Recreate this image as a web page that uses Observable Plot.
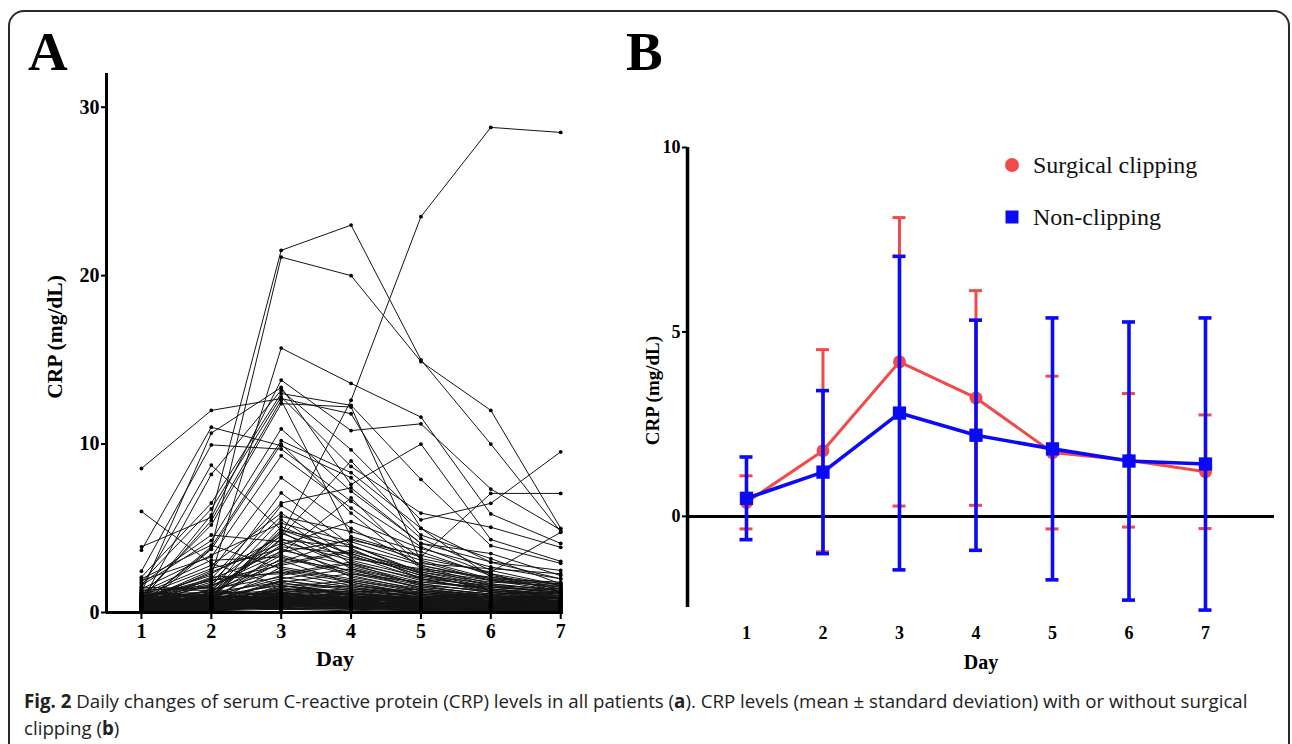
<!DOCTYPE html>
<html>
<head>
<meta charset="utf-8">
<script src="https://cdn.jsdelivr.net/npm/d3@7"></script>
<script src="https://cdn.jsdelivr.net/npm/@observablehq/plot@0.6"></script>
<style>
  html, body { margin: 0; padding: 0; background: #fff; }
  body { width: 1292px; height: 744px; overflow: hidden; position: relative; }
  #frame { position: absolute; left: 8px; top: 10px; width: 1282px; height: 780px;
           border: 2px solid #2a2a2a; border-radius: 16px; box-sizing: border-box; }
  .panel-label { position: absolute; font-family: "Liberation Serif", serif; font-weight: bold;
                 font-size: 55px; line-height: 1; color: #000; }
  #plotA, #plotB { position: absolute; top: 0; }
  #plotA { left: 0; }
  #plotB { left: 620px; }
  #legend { position: absolute; left: 1000px; top: 146px; font-family: "Liberation Serif", serif;
            font-size: 24px; color: #111; }
  #legend .item { position: absolute; white-space: nowrap; display: flex; align-items: center; }
  #legend svg { margin-right: 7px; }
  #caption { position: absolute; left: 24px; top: 687px; width: 1262px; font-family: "Open Sans", sans-serif;
             font-size: 18.7px; line-height: 27px; color: #222; letter-spacing: 0px; white-space: nowrap; }
</style>
</head>
<body>
<div id="frame"></div>
<div class="panel-label" style="left:28px; top:24px;">A</div>
<div class="panel-label" style="left:626px; top:24px;">B</div>
<div id="plotA"></div>
<div id="plotB"></div>
<div id="legend"></div>
<div id="caption"></div>
<script>
// ---------- DATA ----------
const days = [1, 2, 3, 4, 5, 6, 7];
const yTicksA = [0, 10, 20, 30];
const yTicksB = [0, 5, 10];

// Panel A: CRP (mg/dL) per patient, day 1..7
const patientsHigh = [
  [0.4, 1.0, 4.6, 12.6, 23.5, 28.8, 28.5],
  [0.7, 5.8, 21.5, 23.0, 15.0, 10.0, 4.8],
  [0.5, 3.8, 21.1, 20.0, 14.9, 12.0, 5.0],
  [8.55, 12.0, 12.7, 11.8, 5.0, 2.1, 1.4],
  [6.0, 2.9, 1.6, 1.1, 0.8, 0.6, 0.5],
  [0.9, 2.2, 15.7, 13.6, 11.6, 5.85, 4.1],
  [3.9, 5.65, 13.8, 10.8, 11.2, 7.33, 4.9],
  [3.7, 11.0, 9.9, 8.0, 4.4, 2.5, 1.6],
  [1.2, 10.65, 13.36, 7.6, 10.0, 4.33, 3.04],
  [2.45, 9.95, 9.7, 6.6, 3.9, 2.3, 1.2],
  [1.5, 8.75, 4.9, 3.5, 2.2, 1.4, 1.0],
  [0.6, 8.2, 13.2, 9.66, 5.5, 6.48, 9.54],
  [2.1, 6.5, 13.0, 12.3, 7.9, 3.97, 2.92],
  [1.8, 6.15, 12.8, 8.67, 5.9, 5.06, 3.87],
  [0.8, 5.45, 12.6, 4.5, 3.3, 7.07, 7.07],
  [1.0, 5.2, 12.4, 12.2, 3.0, 1.9, 1.3],
  [1.6, 4.27, 10.9, 7.2, 4.1, 3.5, 2.19],
  [0.5, 3.9, 10.2, 8.3, 5.0, 2.98, 2.0],
  [0.3, 3.75, 10.0, 5.9, 2.6, 1.6, 1.1],
  [1.9, 3.3, 9.3, 6.2, 3.2, 2.4, 4.76],
  [0.7, 2.5, 8.0, 5.0, 2.8, 2.0, 1.8],
  [1.3, 1.5, 7.1, 4.0, 2.3, 1.3, 0.9],
  [0.4, 2.0, 6.5, 7.4, 4.1, 3.0, 2.5],
  [0.9, 1.2, 6.35, 3.8, 2.0, 1.2, 0.8],
  [1.1, 2.8, 5.9, 3.3, 2.4, 1.8, 1.6],
  [0.6, 1.8, 5.7, 4.8, 3.6, 2.2, 1.5],
  [0.2, 1.1, 5.5, 2.9, 1.6, 1.0, 0.7],
  [1.4, 3.4, 5.3, 4.2, 2.9, 2.6, 2.3],
  [0.5, 0.9, 4.8, 2.6, 1.4, 0.9, 0.6],
  [0.8, 2.3, 4.5, 9.0, 4.6, 3.2, 1.7],
  [1.7, 4.6, 4.2, 3.1, 2.1, 1.5, 1.2],
  [0.3, 1.4, 4.0, 5.4, 3.8, 2.7, 2.0],
  [1.0, 2.6, 3.8, 2.4, 1.5, 1.1, 0.9],
  [0.6, 1.6, 3.5, 6.8, 2.7, 1.7, 1.3],
  [1.2, 3.1, 3.3, 2.2, 1.3, 0.8, 0.6],
  [0.4, 0.8, 3.0, 4.4, 3.1, 2.0, 1.4],
  [0.9, 1.9, 2.8, 3.6, 2.5, 1.9, 1.7],
  [2.0, 4.0, 2.6, 1.9, 1.2, 0.9, 0.7],
  [0.7, 1.3, 2.5, 1.8, 1.1, 0.7, 0.5],
  [0.5, 2.1, 2.3, 3.0, 1.9, 1.4, 1.1]
];
const patientsMid = [
  [0.3, 0.7, 5.1, 3.4, 2.0, 1.3, 1.0],
  [0.8, 1.0, 4.9, 4.0, 2.4, 1.6, 1.2],
  [0.5, 1.7, 4.7, 3.2, 2.6, 2.1, 1.7],
  [1.1, 0.9, 4.4, 2.7, 1.7, 1.2, 0.9],
  [0.2, 1.2, 4.3, 3.9, 2.8, 1.9, 1.5],
  [0.6, 2.4, 4.1, 2.1, 1.4, 1.0, 0.8],
  [1.0, 1.5, 3.9, 3.5, 2.2, 1.7, 1.3],
  [0.4, 0.6, 3.7, 2.8, 1.8, 1.4, 1.1],
  [0.9, 2.0, 3.6, 4.3, 3.4, 2.3, 1.6],
  [0.3, 1.1, 3.4, 2.3, 1.5, 1.1, 0.8],
  [0.7, 0.8, 3.2, 2.5, 1.6, 1.3, 1.0],
  [1.3, 1.6, 3.1, 1.7, 1.0, 0.7, 0.5],
  [0.5, 1.3, 2.9, 3.7, 2.3, 1.5, 1.2],
  [0.2, 0.5, 2.7, 2.0, 1.3, 0.9, 0.7],
  [0.8, 1.9, 2.4, 1.6, 1.1, 0.8, 0.6],
  [0.4, 0.9, 2.2, 2.9, 2.0, 1.6, 1.4],
  [1.5, 1.4, 2.1, 1.5, 0.9, 0.6, 0.5],
  [0.6, 1.0, 2.0, 2.6, 1.7, 1.2, 1.0],
  [0.3, 0.7, 1.9, 1.4, 0.9, 0.7, 0.6],
  [1.1, 1.2, 1.8, 2.3, 1.8, 1.5, 1.3]
];
const patientsLow = [
  [0.2, 0.4, 1.6, 1.2, 0.8, 0.5, 0.4],
  [0.5, 0.6, 1.5, 1.9, 1.3, 1.0, 0.8],
  [0.1, 0.3, 1.4, 1.0, 0.6, 0.4, 0.3],
  [0.7, 0.8, 1.3, 1.6, 1.2, 0.9, 0.7],
  [0.3, 0.5, 1.2, 0.9, 0.5, 0.3, 0.2],
  [0.9, 1.1, 1.1, 1.3, 1.0, 0.8, 0.9],
  [0.4, 0.2, 1.0, 0.8, 0.6, 0.5, 0.4],
  [0.6, 0.9, 0.9, 1.1, 0.9, 1.1, 1.2],
  [0.2, 0.6, 0.8, 0.7, 0.4, 0.3, 0.3],
  [1.0, 0.7, 0.7, 1.0, 0.7, 0.6, 0.5],
  [0.1, 0.1, 0.6, 0.5, 0.3, 0.2, 0.2],
  [0.5, 0.4, 0.5, 0.9, 0.8, 0.7, 0.6],
  [0.8, 0.3, 0.4, 0.6, 0.5, 0.4, 0.3],
  [0.3, 0.8, 1.7, 1.5, 1.1, 0.8, 0.6],
  [0.6, 0.5, 1.9, 1.3, 0.9, 0.6, 0.5],
  [0.2, 0.9, 1.2, 0.7, 0.5, 0.4, 0.4],
  [1.2, 1.0, 0.9, 0.6, 0.4, 0.3, 0.2],
  [0.4, 0.3, 0.7, 1.2, 1.4, 1.0, 0.8],
  [0.7, 0.6, 1.0, 0.8, 0.6, 0.9, 1.0],
  [0.1, 0.2, 0.3, 0.4, 0.3, 0.2, 0.1],
  [0.9, 0.4, 1.4, 1.1, 0.7, 0.5, 0.4],
  [0.3, 1.2, 1.1, 0.9, 1.2, 0.8, 0.6],
  [0.5, 0.2, 0.6, 0.3, 0.2, 0.2, 0.1],
  [1.3, 0.9, 0.8, 0.5, 0.4, 0.6, 0.7],
  [0.2, 0.5, 1.3, 1.8, 1.0, 0.7, 0.5],
  [0.6, 0.7, 0.5, 0.4, 0.5, 0.4, 0.3],
  [0.4, 1.0, 1.6, 1.0, 0.8, 1.3, 1.1],
  [0.8, 0.6, 0.4, 0.7, 0.9, 0.6, 0.4],
  [0.1, 0.3, 0.9, 0.6, 0.3, 0.3, 0.2],
  [1.1, 0.5, 1.2, 1.4, 1.1, 0.9, 0.8],
  [0.3, 0.4, 0.2, 0.3, 0.4, 0.5, 0.6],
  [0.7, 0.2, 1.5, 0.8, 0.6, 0.4, 0.3],
  [0.5, 0.8, 0.6, 1.3, 0.7, 0.5, 0.4],
  [0.2, 0.1, 0.4, 0.2, 0.1, 0.1, 0.1],
  [0.9, 0.7, 1.8, 1.0, 0.5, 0.7, 0.9],
  [0.4, 0.6, 0.3, 0.5, 0.6, 0.3, 0.2],
  [1.4, 1.3, 1.0, 0.8, 0.6, 0.4, 0.3],
  [0.6, 0.3, 0.8, 0.4, 0.3, 0.6, 0.5],
  [0.3, 0.9, 0.5, 1.0, 0.8, 1.0, 0.9],
  [0.8, 0.4, 1.1, 0.7, 0.4, 0.2, 0.2],
  [0.2, 0.7, 0.7, 0.5, 0.7, 0.8, 0.7],
  [1.0, 0.2, 0.3, 0.6, 0.3, 0.4, 0.5],
  [0.5, 1.1, 1.3, 0.9, 0.5, 0.3, 0.3],
  [0.1, 0.4, 0.6, 1.1, 0.9, 0.5, 0.4],
  [0.7, 0.5, 0.9, 0.3, 0.2, 0.3, 0.2],
  [0.3, 0.2, 1.0, 0.7, 1.0, 0.7, 0.6],
  [1.2, 0.8, 0.5, 0.4, 0.3, 0.5, 0.4],
  [0.4, 0.6, 1.4, 1.2, 0.6, 0.4, 0.3],
  [0.6, 0.3, 0.2, 0.2, 0.5, 0.6, 0.7],
  [0.9, 1.0, 0.7, 0.9, 0.7, 0.3, 0.2]
];
const patientsVeryLow = [
  [0.1, 0.2, 0.5, 0.3, 0.2, 0.1, 0.1],
  [0.3, 0.1, 0.8, 0.6, 0.4, 0.3, 0.2],
  [0.5, 0.3, 0.3, 0.2, 0.3, 0.2, 0.2],
  [0.2, 0.4, 0.7, 0.9, 0.6, 0.4, 0.3],
  [0.4, 0.2, 0.9, 0.5, 0.3, 0.4, 0.5],
  [0.6, 0.5, 0.4, 0.6, 0.4, 0.3, 0.2],
  [0.1, 0.3, 0.6, 0.4, 0.5, 0.6, 0.4],
  [0.3, 0.6, 0.5, 0.8, 0.7, 0.5, 0.3],
  [0.8, 0.5, 0.7, 0.4, 0.2, 0.2, 0.3],
  [0.2, 0.1, 0.2, 0.3, 0.2, 0.3, 0.4],
  [0.5, 0.7, 1.0, 0.6, 0.5, 0.4, 0.3],
  [0.4, 0.4, 0.6, 0.7, 0.3, 0.2, 0.1],
  [0.7, 0.3, 0.5, 0.5, 0.6, 0.5, 0.4],
  [0.1, 0.5, 0.8, 0.4, 0.3, 0.2, 0.2],
  [0.3, 0.2, 0.4, 0.6, 0.8, 0.6, 0.5],
  [0.6, 0.4, 0.2, 0.1, 0.2, 0.4, 0.3],
  [0.2, 0.6, 0.9, 0.7, 0.4, 0.3, 0.3],
  [0.9, 0.6, 0.6, 0.3, 0.3, 0.2, 0.2],
  [0.4, 0.1, 0.3, 0.5, 0.4, 0.5, 0.6],
  [0.1, 0.4, 1.1, 0.8, 0.6, 0.3, 0.2],
  [0.5, 0.2, 0.7, 0.2, 0.1, 0.1, 0.2],
  [0.3, 0.5, 0.4, 0.9, 0.5, 0.4, 0.4],
  [0.7, 0.8, 0.6, 0.5, 0.4, 0.6, 0.5],
  [0.2, 0.3, 1.2, 0.6, 0.3, 0.2, 0.1],
  [0.6, 0.1, 0.5, 0.4, 0.6, 0.3, 0.3],
  [0.4, 0.7, 0.3, 0.7, 0.5, 0.7, 0.6],
  [0.1, 0.2, 0.7, 0.3, 0.4, 0.2, 0.3],
  [0.8, 0.4, 0.8, 0.6, 0.2, 0.3, 0.2],
  [0.3, 0.3, 0.2, 0.4, 0.7, 0.4, 0.2],
  [0.5, 0.9, 1.0, 0.5, 0.3, 0.2, 0.1],
  [0.2, 0.5, 0.6, 0.8, 0.4, 0.5, 0.4],
  [0.6, 0.2, 0.9, 0.3, 0.5, 0.4, 0.3],
  [0.4, 0.6, 0.4, 0.2, 0.3, 0.1, 0.2],
  [0.1, 0.1, 0.8, 0.7, 0.2, 0.3, 0.4],
  [0.7, 0.5, 0.3, 0.6, 0.4, 0.2, 0.3],
  [0.3, 0.8, 0.7, 0.4, 0.6, 0.5, 0.5],
  [0.5, 0.3, 1.1, 0.9, 0.5, 0.3, 0.2],
  [0.2, 0.4, 0.5, 0.3, 0.1, 0.2, 0.1],
  [0.9, 0.2, 0.6, 0.8, 0.3, 0.4, 0.3],
  [0.4, 0.3, 0.9, 0.5, 0.7, 0.3, 0.4]
];

// Panel B: mean and SD
const groups = ["Surgical clipping", "Non-clipping"];
const clipMean = [0.38, 1.78, 4.19, 3.21, 1.73, 1.52, 1.21];
const clipSD   = [0.72, 2.74, 3.91, 2.91, 2.07, 1.81, 1.54];
const nonMean  = [0.49, 1.20, 2.80, 2.20, 1.83, 1.50, 1.42];
const nonSD    = [1.12, 2.21, 4.25, 3.12, 3.55, 3.77, 3.96];
const groupColors = ["#f24a4a", "#0a0af5"];

// ---------- PANEL A ----------
const rowsA = [];
[...patientsHigh, ...patientsMid, ...patientsLow, ...patientsVeryLow].forEach((vals, i) =>
  vals.forEach((v, j) => rowsA.push({ id: i, day: days[j], crp: v })));

const serif = "'Liberation Serif', 'Times New Roman', serif";

const plotA = Plot.plot({
  width: 620, height: 690,
  marginLeft: 106, marginRight: 57, marginTop: 73, marginBottom: 78,
  style: { fontFamily: serif, color: "#000", background: "transparent", overflow: "visible" },
  x: { domain: [0.5, 7.04] },
  y: { domain: [0, 32] },
  marks: [
    Plot.lineY(rowsA, { x: "day", y: "crp", z: "id", stroke: "#141414", strokeWidth: 1 }),
    Plot.dot(rowsA, { x: "day", y: "crp", r: 1.9, fill: "#000" }),
    Plot.axisY({ ticks: yTicksA, tickSize: 5, tickPadding: 2, tickFormat: d3.format("d"),
                 fontSize: 20, fontWeight: "bold", strokeWidth: 2, label: null }),
    Plot.axisX({ ticks: days, tickSize: 7, tickPadding: 4, tickFormat: d3.format("d"),
                 fontSize: 20, fontWeight: "bold", strokeWidth: 2, label: null }),
    Plot.ruleY([0], { strokeWidth: 3, stroke: "#000" }),
    Plot.ruleX([0.5], { strokeWidth: 3, stroke: "#000" }),
    Plot.text(["Day"], { frameAnchor: "bottom", dy: 53, fontSize: 22, fontWeight: "bold" }),
    Plot.text(["CRP (mg/dL)"], { frameAnchor: "left", textAnchor: "middle", dx: -51, dy: -6, rotate: -90, fontSize: 21.5, fontWeight: "bold" })
  ]
});
document.getElementById("plotA").append(plotA);

// ---------- PANEL B ----------
const rowsB = [];
days.forEach((d, j) => {
  rowsB.push({ group: groups[0], day: d, mean: clipMean[j], sd: clipSD[j] });
  rowsB.push({ group: groups[1], day: d, mean: nonMean[j], sd: nonSD[j] });
});
const clipRows = rowsB.filter(r => r.group === groups[0]);
const nonRows = rowsB.filter(r => r.group === groups[1]);
const capHalf = 0.085;

function groupMarks(rows, color, width, symbol, r) {
  return [
    Plot.ruleX(rows, { x: "day", y1: d => d.mean - d.sd, y2: d => d.mean + d.sd, stroke: color, strokeWidth: width }),
    Plot.ruleY(rows, { y: d => d.mean + d.sd, x1: d => d.day - capHalf, x2: d => d.day + capHalf, stroke: color, strokeWidth: width }),
    Plot.ruleY(rows, { y: d => d.mean - d.sd, x1: d => d.day - capHalf, x2: d => d.day + capHalf, stroke: color, strokeWidth: width }),
    Plot.lineY(rows, { x: "day", y: "mean", stroke: color, strokeWidth: width }),
    Plot.dot(rows, { x: "day", y: "mean", symbol, r, fill: color })
  ];
}

const plotB = Plot.plot({
  width: 672, height: 690,
  marginLeft: 67, marginRight: 18, marginTop: 147, marginBottom: 83,
  style: { fontFamily: serif, color: "#000", background: "transparent", overflow: "visible" },
  x: { domain: [0.229, 7.902] },
  y: { domain: [-2.47, 10] },
  marks: [
    Plot.ruleY([0], { strokeWidth: 3, stroke: "#000" }),
    Plot.ruleX([0.229], { strokeWidth: 3.5, stroke: "#000" }),
    Plot.axisY({ ticks: yTicksB, tickSize: 5, tickPadding: 2, tickFormat: d3.format("d"),
                 fontSize: 18, fontWeight: "bold", strokeWidth: 2, label: null }),
    Plot.axisX({ ticks: days, tickSize: 0, tickPadding: 19, tickFormat: d3.format("d"),
                 fontSize: 18, fontWeight: "bold", label: null }),
    ...groupMarks(clipRows, groupColors[0], 3, "circle", 6.5),
    ...groupMarks(nonRows, groupColors[1], 3.6, "square", 7.5),
    Plot.text(["Day"], { frameAnchor: "bottom", dy: 61, fontSize: 20, fontWeight: "bold" }),
    Plot.text(["CRP (mg/dL)"], { frameAnchor: "left", textAnchor: "middle", dx: -35, dy: 13, rotate: -90, fontSize: 19, fontWeight: "bold" })
  ]
});
document.getElementById("plotB").append(plotB);

// ---------- LEGEND ----------
const legend = document.getElementById("legend");
groups.forEach((g, i) => {
  const item = document.createElement("div");
  item.className = "item";
  item.style.top = (i * 52) + "px";
  const sym = i === 0
    ? `<svg width="26" height="38"><circle cx="12" cy="19" r="7" fill="${groupColors[i]}"/></svg>`
    : `<svg width="26" height="38"><rect x="5.5" y="12.5" width="13" height="13" fill="${groupColors[i]}"/></svg>`;
  item.innerHTML = sym + `<span>${g}</span>`;
  legend.append(item);
});

// ---------- CAPTION ----------
document.getElementById("caption").innerHTML =
  '<b>Fig. 2</b> Daily changes of serum C-reactive protein (CRP) levels in all patients (<b>a</b>). CRP levels (mean\u00a0\u00b1\u00a0standard deviation) with or without surgical<br>clipping (<b>b</b>)';
</script>
</body>
</html>
